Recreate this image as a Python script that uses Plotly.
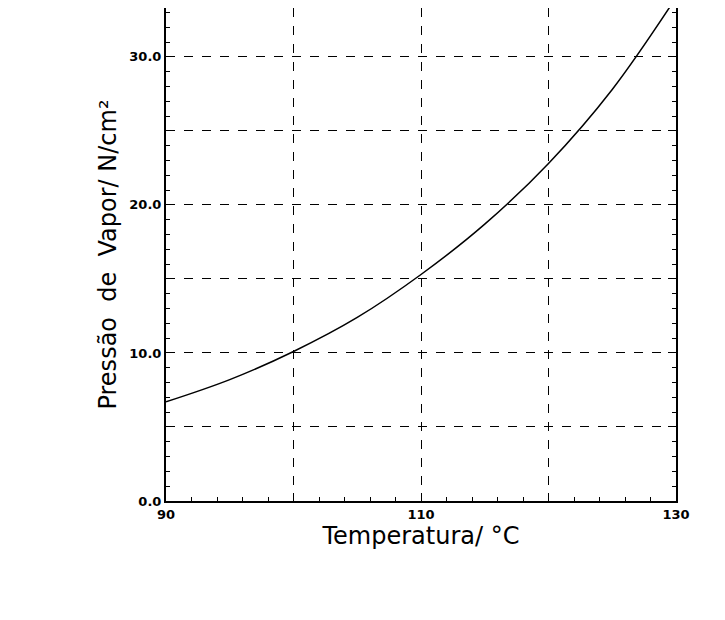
import plotly.graph_objects as go

temps = [90, 95, 100, 105, 110, 115, 120, 125, 130]
pressure = [6.7, 8.2, 10.1, 12.4, 15.3, 18.7, 22.8, 27.8, 34.0]
x_ticks = [90, 100, 110, 120, 130]
x_labels = ["<b>90</b>", "", "<b>110</b>", "", "<b>130</b>"]
y_ticks = [0, 5, 10, 15, 20, 25, 30]
y_labels = ["<b>0.0</b>", "", "<b>10.0</b>", "", "<b>20.0</b>", "", "<b>30.0</b>"]

fig = go.Figure(go.Scatter(x=temps, y=pressure, mode="lines", line=dict(color="black", width=1.5, shape="spline"),
                           cliponaxis=True))
axis_common = dict(showline=True, linecolor="black", linewidth=2, ticks="inside", ticklen=8,
                   tickcolor="black", showgrid=True, gridcolor="black", griddash="dash", gridwidth=1.2, zeroline=False,
                   tickfont=dict(family="DejaVu Sans", size=13, color="black"))
fig.update_xaxes(range=[90, 130], tickvals=x_ticks, ticktext=x_labels, mirror=False,
                 minor=dict(dtick=2, ticks="inside", ticklen=4, tickcolor="black", showgrid=False),
                 title=dict(text="Temperatura/ °C", font=dict(family="DejaVu Sans", size=24, color="black"), standoff=4),
                 **axis_common)
fig.update_yaxes(range=[0, 33.3], tickvals=y_ticks, ticktext=y_labels, mirror="ticks",
                 minor=dict(dtick=1, ticks="inside", ticklen=4, tickcolor="black", showgrid=False),
                 title=dict(text="Pressão  de  Vapor/ N/cm²", font=dict(family="DejaVu Sans", size=24, color="black"), standoff=6),
                 **axis_common)
fig.update_layout(width=725, height=620, margin=dict(l=158, r=57, t=0, b=127),
                  plot_bgcolor="white", paper_bgcolor="white", showlegend=False)
fig.write_html("out.html")
